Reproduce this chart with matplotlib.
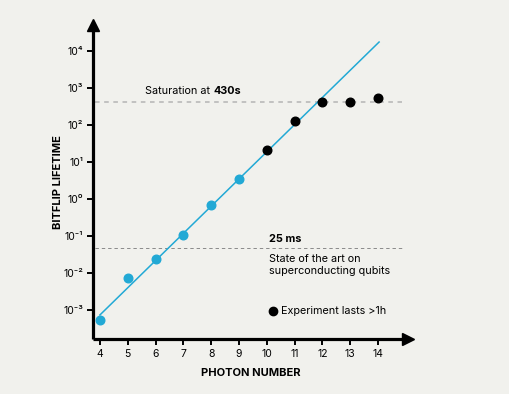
import numpy as np
import matplotlib.pyplot as plt

plt.rcParams['font.family'] = ['Inter', 'DejaVu Sans']

# data
photons_blue = [4, 5, 6, 7, 8, 9]
lifetime_blue = [5.4e-4, 7.3e-3, 0.024, 0.11, 0.69, 3.5]
photons_black = [10, 11, 12, 13, 14]
lifetime_black = [21, 128, 420, 420, 540]
fit_x = [4, 14.04]
fit_y = [10**-3.13, 10**4.24]
saturation = 430
state_of_art = 0.048
xticks = list(range(4, 15))
yticks = [1e-3, 1e-2, 1e-1, 1e0, 1e1, 1e2, 1e3, 1e4]
ytick_labels = ['10\u207b\u00b3', '10\u207b\u00b2', '10\u207b\u00b9', '10\u2070',
                '10\u00b9', '10\u00b2', '10\u00b3', '10\u2074']

bg = '#f1f1ed'
blue = '#22a9d5'
fs = 7.8

fig = plt.figure(figsize=(5.1, 3.94), dpi=100)
fig.patch.set_facecolor(bg)
ax = fig.add_axes([93/510, 55/394, 315/510, 314/394])
ax.set_facecolor(bg)

ax.set_yscale('log')
ax.set_xlim(3.75, 15.08)
ax.set_ylim(10**-3.78, 10**4.7)

ax.plot(fit_x, fit_y, color=blue, linewidth=1.1, zorder=2)
ax.plot(photons_blue, lifetime_blue, 'o', color=blue, markersize=6.2, zorder=3)
ax.plot(photons_black, lifetime_black, 'o', color='black', markersize=6.2, zorder=3)

ax.hlines(saturation, 3.82, 14.85, colors='#b4b4b4', linestyles=(0, (3, 3)), linewidth=1.1, zorder=1)
ax.hlines(state_of_art, 3.82, 14.85, colors='#8a8a8a', linestyles=(0, (3.5, 3)), linewidth=0.7, zorder=1)

t = ax.text(5.63, 10**2.92, 'Saturation at ', fontsize=fs, va='center', ha='left')
fig.canvas.draw()
bb = t.get_window_extent()
xr = ax.transData.inverted().transform((bb.x1, bb.y0))[0]
ax.text(xr, 10**2.92, '430s', fontsize=fs, fontweight='bold', va='center', ha='left')

ax.text(10.07, 10**-1.08, '25 ms', fontsize=fs, fontweight='bold', va='center', ha='left')
ax.text(10.07, 10**-1.78, 'State of the art on\nsuperconducting qubits', fontsize=fs,
        va='center', ha='left', linespacing=1.2)
ax.plot([10.22], [10**-3.02], 'o', color='black', markersize=6, clip_on=False)
ax.text(10.5, 10**-3.02, 'Experiment lasts >1h', fontsize=fs, va='center', ha='left')

for s in ['top', 'right']:
    ax.spines[s].set_visible(False)
for s in ['left', 'bottom']:
    ax.spines[s].set_linewidth(2.3)
    ax.spines[s].set_capstyle('butt')

# arrow heads
ax.plot([1], [0], marker='>', color='black', markersize=8, transform=ax.transAxes, clip_on=False)
ax.plot([0], [1], marker='^', color='black', markersize=8, transform=ax.transAxes, clip_on=False)

ax.set_xticks(xticks)
ax.set_xticklabels([str(v) for v in xticks])
ax.set_yticks(yticks)
ax.set_yticklabels(ytick_labels)
ax.minorticks_off()
ax.tick_params(axis='both', direction='out', length=4, width=1.4, labelsize=7.5, pad=3)

ax.set_xlabel('PHOTON NUMBER', fontsize=8, fontweight='bold', labelpad=7)
ax.set_ylabel('BITFLIP LIFETIME', fontsize=8, fontweight='bold', labelpad=0)

fig.savefig('out.png', dpi=100, facecolor=bg)
